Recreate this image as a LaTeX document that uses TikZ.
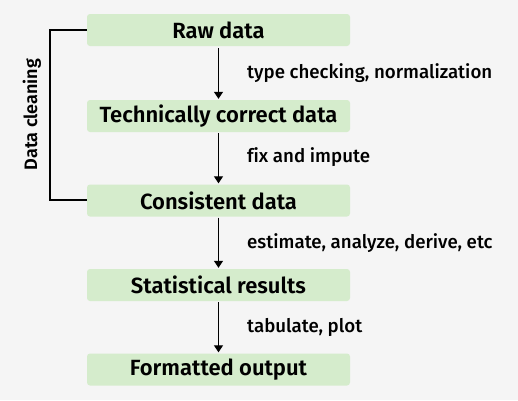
\documentclass[tikz,border=0pt]{standalone}
\usepackage{fontspec}
\setmainfont{Fira Sans}
\newfontfamily\semib{Fira Sans SemiBold}
\newfontfamily\medium{Fira Sans Medium}[Ligatures=NoCommon]
\usetikzlibrary{arrows.meta}
\definecolor{bg}{HTML}{F5F5F5}
\definecolor{boxfill}{HTML}{D5ECCC}
\tikzset{
  stage/.style={fill=boxfill, rounded corners=3pt, minimum width=263pt, minimum height=32pt, inner sep=0pt, font=\fontsize{22}{24}\selectfont\semib, text=black},
  flow/.style={-{Triangle[length=7pt,width=9pt]}, line width=1.2pt},
  lbl/.style={anchor=west, font=\fontsize{18.7}{20}\selectfont\medium, text=black, inner sep=0pt},
  brk/.style={line width=1.2pt}
}
\begin{document}
\begin{tikzpicture}[x=1pt,y=-1pt]
\fill[bg] (0,0) rectangle (518,400);
\useasboundingbox (0,0) rectangle (518,400);
\node[stage] (raw) at (218.5,30) {Raw data};
\node[stage] (tech) at (218.5,116) {Technically correct data};
\node[stage] (cons) at (218.5,200.5) {Consistent data};
\node[stage] (stat) at (218.5,285) {Statistical results};
\node[stage] (fmt) at (218.5,369.5) {Formatted output};
\draw[flow] ([yshift=-2pt]raw.south) -- ([yshift=1pt]tech.north);
\draw[flow] ([yshift=-1pt]tech.south) -- ([yshift=1pt]cons.north);
\draw[flow] ([yshift=-1pt]cons.south) -- ([yshift=1pt]stat.north);
\draw[flow] ([yshift=-1pt]stat.south) -- ([yshift=1pt]fmt.north);
\node[lbl] (l1) at (247,73) {type checking, normalization};
\node[lbl] (l2) at (247,157) {fix and impute};
\node[lbl] (l3) at (247,243) {estimate, analyze, derive, etc};
\node[lbl] (l4) at (247,327) {tabulate, plot};
\coordinate (c1) at (50,30);
\coordinate (c2) at (50,200);
\draw[brk] (raw.west) -- (c1) -- (c2) -- (cons.west |- c2);
\node[font=\fontsize{18}{20}\selectfont\semib, rotate=90, inner sep=0pt] (dc) at (32,114.5) {Data cleaning};
\end{tikzpicture}
\end{document}
